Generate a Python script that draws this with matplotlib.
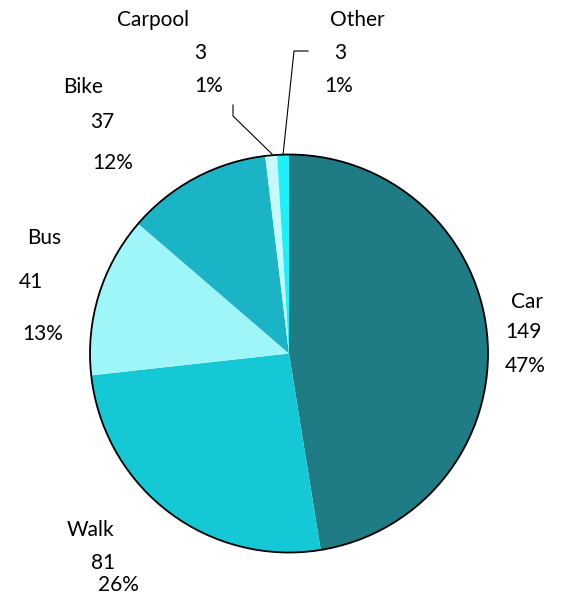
import matplotlib
matplotlib.use("Agg")
import matplotlib.pyplot as plt
from matplotlib.patches import Circle

categories = ["Car", "Walk", "Bus", "Bike", "Carpool", "Other"]
values = [149, 81, 41, 37, 3, 3]
colors = ["#1f7b84", "#14c8d6", "#9ef6f8", "#1bb4c6", "#c8f8fc", "#1ef0fa"]

W, H = 570, 602
fig = plt.figure(figsize=(W / 100, H / 100), dpi=100)
ax = fig.add_axes([0, 0, 1, 1])
ax.set_xlim(0, W)
ax.set_ylim(0, H)
ax.set_aspect("equal")
ax.axis("off")

cx, cy, r = 289, H - 353.5, 199
ax.pie(values, colors=colors, startangle=90, counterclock=False,
       center=(cx, cy), radius=r, wedgeprops=dict(linewidth=0))
ax.add_patch(Circle((cx, cy), r, fill=False, edgecolor="black", linewidth=1.3))
ax.set_xlim(0, W)
ax.set_ylim(0, H)

total = sum(values)
pcts = [f"{round(v / total * 100)}%" for v in values]

# label line centers in pixel coords (name, value, percent)
label_pos = {
    "Car": [(527, 302), (523, 332), (525, 366)],
    "Walk": [(90, 530), (103, 563), (118, 585)],
    "Bus": [(44, 238), (31, 282), (43, 334)],
    "Bike": [(83, 87), (102, 122), (113, 163)],
    "Carpool": [(153, 20), (200, 53), (209, 86)],
    "Other": [(357, 20), (340, 53), (339, 86)],
}
for cat, v, p in zip(categories, values, pcts):
    for txt, (x, y) in zip([cat, str(v), p], label_pos[cat]):
        ax.text(x, H - y, txt, ha="center", va="center", fontsize=15,
                family="Lato", color="black")

# leader lines
ax.plot([233, 233, 272], [H - 105, H - 116, H - 154], color="black", lw=0.8)
ax.plot([308, 294, 283], [H - 51, H - 51, H - 155], color="black", lw=0.8)

fig.savefig("out.png", dpi=100)
